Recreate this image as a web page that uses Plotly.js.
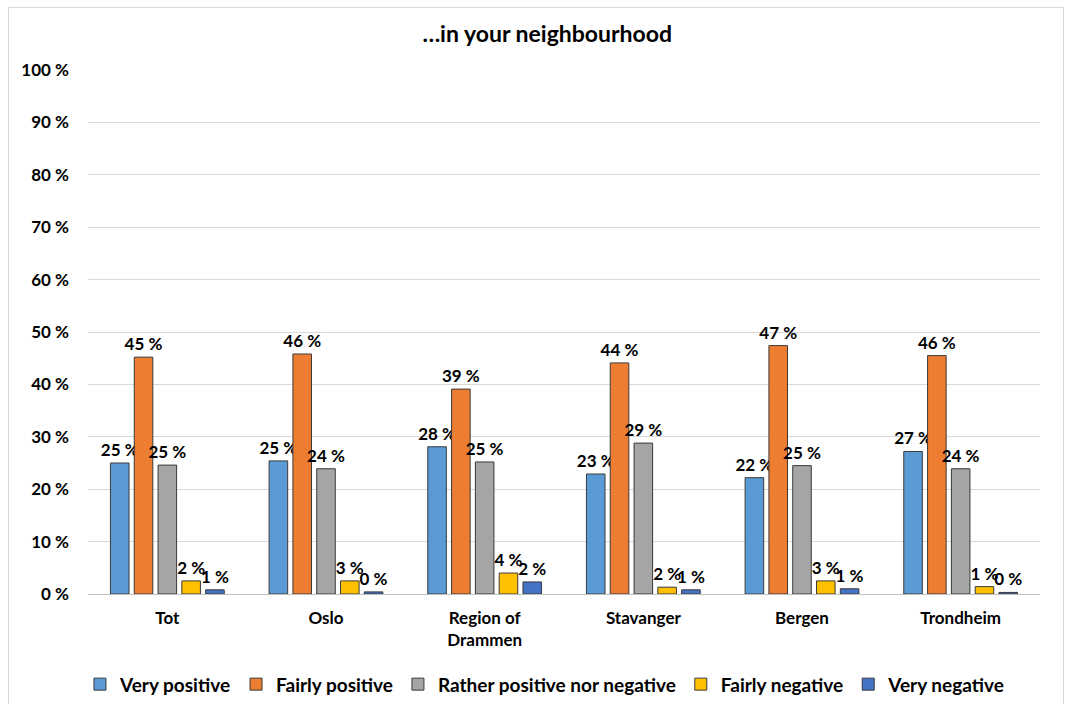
<!DOCTYPE html>
<html>
<head>
<meta charset="utf-8">
<script src="https://cdn.plot.ly/plotly-3.0.1.min.js"></script>
<style>
html,body{margin:0;padding:0;background:#fff;width:1073px;height:704px;overflow:hidden;}
#frame{position:absolute;left:8px;top:7px;width:1056px;height:700px;border:1px solid #d9d9d9;box-sizing:border-box;}
#chart{position:absolute;left:0;top:0;width:1073px;height:704px;}
</style>
</head>
<body>
<div id="frame"></div>
<div id="chart"></div>
<script>
const categories = ["Tot", "Oslo", "Region of<br>Drammen", "Stavanger", "Bergen", "Trondheim"];
const seriesNames = ["Very positive", "Fairly positive", "Rather positive nor negative", "Fairly negative", "Very negative"];
const veryPositive   = [25.0, 25.4, 28.1, 22.9, 22.2, 27.2];
const fairlyPositive = [45.2, 45.8, 39.1, 44.1, 47.4, 45.5];
const neutral        = [24.6, 23.9, 25.2, 28.8, 24.5, 23.9];
const fairlyNegative = [2.5, 2.5, 4.0, 1.3, 2.5, 1.4];
const veryNegative   = [0.8, 0.4, 2.3, 0.8, 1.0, 0.3];
const labelsVeryPositive   = ["25 %", "25 %", "28 %", "23 %", "22 %", "27 %"];
const labelsFairlyPositive = ["45 %", "46 %", "39 %", "44 %", "47 %", "46 %"];
const labelsNeutral        = ["25 %", "24 %", "25 %", "29 %", "25 %", "24 %"];
const labelsFairlyNegative = ["2 %", "3 %", "4 %", "2 %", "3 %", "1 %"];
const labelsVeryNegative   = ["1 %", "0 %", "2 %", "1 %", "1 %", "0 %"];
const yTickVals = [0,10,20,30,40,50,60,70,80,90,100];

const colors = ["#5B9BD5", "#ED7D31", "#A5A5A5", "#FFC000", "#4472C4"];
const values = [veryPositive, fairlyPositive, neutral, fairlyNegative, veryNegative];
const labels = [labelsVeryPositive, labelsFairlyPositive, labelsNeutral, labelsFairlyNegative, labelsVeryNegative];
const FONT = "Lato, 'Open Sans', sans-serif";

const traces = seriesNames.map((name, i) => ({
  type: "bar",
  name: name,
  x: categories,
  y: values[i],
  text: labels[i],
  textposition: "outside",
  constraintext: "none",
  textfont: {family: FONT, size: 17, color: "#000", weight: "bold"},
  cliponaxis: false,
  marker: {color: colors[i], line: {color: "#3a3a3a", width: 1}},
  hoverinfo: "skip"
}));

const layout = {
  width: 1073, height: 704,
  margin: {l: 88, r: 33, t: 70, b: 110},
  paper_bgcolor: "rgba(0,0,0,0)",
  plot_bgcolor: "rgba(0,0,0,0)",
  barmode: "group",
  bargap: 0.25,
  bargroupgap: 0.22,
  title: {text: "…in your neighbourhood", x: 0.51, xanchor: "center", y: 0.952, yanchor: "middle",
          font: {family: FONT, size: 23, color: "#000", weight: "bold"}},
  font: {family: FONT, color: "#000"},
  xaxis: {
    showgrid: false, zeroline: false, showline: false, ticks: "", automargin: false,
    ticklabelstandoff: 12,
    tickfont: {family: FONT, size: 17, color: "#000", weight: "bold"}
  },
  yaxis: {
    range: [0, 100], tickvals: yTickVals, ticktext: yTickVals.map(v => v + " %"),
    showgrid: true, gridcolor: "#d9d9d9", gridwidth: 1,
    zeroline: true, zerolinecolor: "#bfbfbf", zerolinewidth: 1,
    showline: false, ticks: "", automargin: false, ticklabelstandoff: 18,
    tickfont: {family: FONT, size: 17, color: "#000", weight: "bold"}
  },
  showlegend: true,
  legend: {orientation: "h", x: 0.48, xanchor: "center", yref: "container", y: 0.028, yanchor: "middle",
           font: {family: FONT, size: 19, color: "#000", weight: "bold"},
           itemwidth: 30, tracegroupgap: 0}
};

Plotly.newPlot("chart", traces, layout, {displayModeBar: false, staticPlot: true});
</script>
</body>
</html>
